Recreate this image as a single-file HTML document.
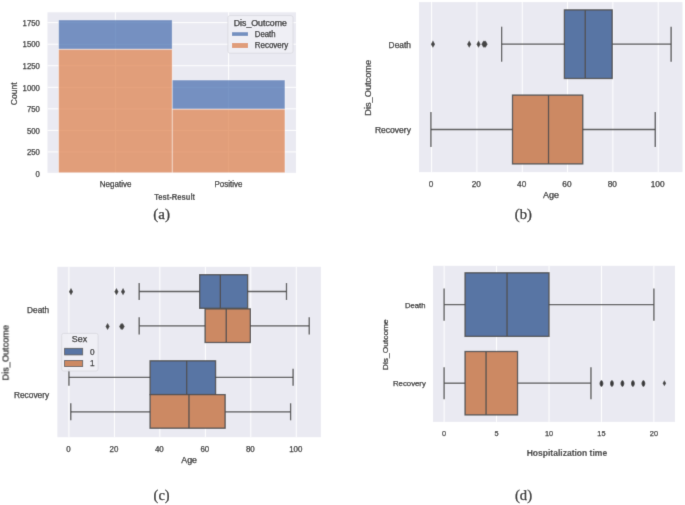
<!DOCTYPE html>
<html><head><meta charset="utf-8"><style>
html,body{margin:0;padding:0;background:#fff;}
body{width:685px;height:505px;overflow:hidden;}
svg{display:block;will-change:transform;}
</style></head><body>
<svg width="685" height="505" viewBox="0 0 685 505">
<defs><filter id="bl" x="0" y="0" width="100%" height="100%"><feConvolveMatrix order="3" kernelMatrix="0.01134 0.08382 0.01134 0.08382 0.61935 0.08382 0.01134 0.08382 0.01134" divisor="1" edgeMode="duplicate" preserveAlpha="false"/></filter></defs>
<rect x="0" y="0" width="685" height="505" fill="#fff"/>
<g filter="url(#bl)">
<rect x="0" y="0" width="685" height="505" fill="#fff"/>
<rect x="47.50" y="12.30" width="248.50" height="160.50" fill="#EAEAF2" />
<text x="39.80" y="176.70" font-size="8.3" text-anchor="end" font-weight="normal" style='font-family:"Liberation Sans", sans-serif' fill="#262626" textLength="4.30" lengthAdjust="spacingAndGlyphs"  stroke="#262626" stroke-width="0.25">0</text>
<line x1="47.50" y1="151.95" x2="296.00" y2="151.95" stroke="#FFFFFF" stroke-width="1" />
<text x="39.80" y="155.15" font-size="8.3" text-anchor="end" font-weight="normal" style='font-family:"Liberation Sans", sans-serif' fill="#262626" textLength="12.90" lengthAdjust="spacingAndGlyphs"  stroke="#262626" stroke-width="0.25">250</text>
<line x1="47.50" y1="130.40" x2="296.00" y2="130.40" stroke="#FFFFFF" stroke-width="1" />
<text x="39.80" y="133.60" font-size="8.3" text-anchor="end" font-weight="normal" style='font-family:"Liberation Sans", sans-serif' fill="#262626" textLength="12.90" lengthAdjust="spacingAndGlyphs"  stroke="#262626" stroke-width="0.25">500</text>
<line x1="47.50" y1="108.85" x2="296.00" y2="108.85" stroke="#FFFFFF" stroke-width="1" />
<text x="39.80" y="112.05" font-size="8.3" text-anchor="end" font-weight="normal" style='font-family:"Liberation Sans", sans-serif' fill="#262626" textLength="12.90" lengthAdjust="spacingAndGlyphs"  stroke="#262626" stroke-width="0.25">750</text>
<line x1="47.50" y1="87.30" x2="296.00" y2="87.30" stroke="#FFFFFF" stroke-width="1" />
<text x="39.80" y="90.50" font-size="8.3" text-anchor="end" font-weight="normal" style='font-family:"Liberation Sans", sans-serif' fill="#262626" textLength="17.20" lengthAdjust="spacingAndGlyphs"  stroke="#262626" stroke-width="0.25">1000</text>
<line x1="47.50" y1="65.75" x2="296.00" y2="65.75" stroke="#FFFFFF" stroke-width="1" />
<text x="39.80" y="68.95" font-size="8.3" text-anchor="end" font-weight="normal" style='font-family:"Liberation Sans", sans-serif' fill="#262626" textLength="17.20" lengthAdjust="spacingAndGlyphs"  stroke="#262626" stroke-width="0.25">1250</text>
<line x1="47.50" y1="44.20" x2="296.00" y2="44.20" stroke="#FFFFFF" stroke-width="1" />
<text x="39.80" y="47.40" font-size="8.3" text-anchor="end" font-weight="normal" style='font-family:"Liberation Sans", sans-serif' fill="#262626" textLength="17.20" lengthAdjust="spacingAndGlyphs"  stroke="#262626" stroke-width="0.25">1500</text>
<line x1="47.50" y1="22.65" x2="296.00" y2="22.65" stroke="#FFFFFF" stroke-width="1" />
<text x="39.80" y="25.85" font-size="8.3" text-anchor="end" font-weight="normal" style='font-family:"Liberation Sans", sans-serif' fill="#262626" textLength="17.20" lengthAdjust="spacingAndGlyphs"  stroke="#262626" stroke-width="0.25">1750</text>
<line x1="115.40" y1="12.30" x2="115.40" y2="172.80" stroke="#FFFFFF" stroke-width="1" />
<line x1="228.60" y1="12.30" x2="228.60" y2="172.80" stroke="#FFFFFF" stroke-width="1" />
<rect x="58.50" y="49.11" width="113.70" height="123.69" fill="#DD8452" fill-opacity="0.75" stroke="#fff" stroke-opacity="0.75" stroke-width="0.6"/>
<rect x="58.50" y="19.89" width="113.70" height="29.22" fill="#4C72B0" fill-opacity="0.75" stroke="#fff" stroke-opacity="0.75" stroke-width="0.6"/>
<rect x="172.20" y="109.02" width="112.80" height="63.78" fill="#DD8452" fill-opacity="0.75" stroke="#fff" stroke-opacity="0.75" stroke-width="0.6"/>
<rect x="172.20" y="79.97" width="112.80" height="29.05" fill="#4C72B0" fill-opacity="0.75" stroke="#fff" stroke-opacity="0.75" stroke-width="0.6"/>
<rect x="227.9" y="15.6" width="65.1" height="37.6" rx="2" fill="#F0F0F5" fill-opacity="0.9" stroke="#D8D8DE" stroke-width="0.8"/>
<text x="260.30" y="25.80" font-size="8.2" text-anchor="middle" font-weight="normal" style='font-family:"Liberation Sans", sans-serif' fill="#262626" textLength="53.00" lengthAdjust="spacingAndGlyphs"  stroke="#262626" stroke-width="0.25">Dis_Outcome</text>
<rect x="232.00" y="32.20" width="16.00" height="3.70" fill="#7390C0" />
<rect x="232.00" y="43.00" width="16.00" height="5.00" fill="#E09D7A" />
<text x="254.80" y="37.00" font-size="8.2" text-anchor="start" font-weight="normal" style='font-family:"Liberation Sans", sans-serif' fill="#262626" textLength="20.70" lengthAdjust="spacingAndGlyphs"  stroke="#262626" stroke-width="0.25">Death</text>
<text x="254.80" y="47.60" font-size="8.2" text-anchor="start" font-weight="normal" style='font-family:"Liberation Sans", sans-serif' fill="#262626" textLength="33.50" lengthAdjust="spacingAndGlyphs"  stroke="#262626" stroke-width="0.25">Recovery</text>
<text x="17.40" y="93.70" font-size="8.4" text-anchor="middle" font-weight="normal" style='font-family:"Liberation Sans", sans-serif' fill="#262626" textLength="22.90" lengthAdjust="spacingAndGlyphs" transform="rotate(-90 17.40 93.70)"  stroke="#262626" stroke-width="0.25">Count</text>
<text x="115.60" y="186.90" font-size="8.8" text-anchor="middle" font-weight="normal" style='font-family:"Liberation Sans", sans-serif' fill="#262626" textLength="31.60" lengthAdjust="spacingAndGlyphs"  stroke="#262626" stroke-width="0.25">Negative</text>
<text x="228.40" y="186.90" font-size="8.8" text-anchor="middle" font-weight="normal" style='font-family:"Liberation Sans", sans-serif' fill="#262626" textLength="27.80" lengthAdjust="spacingAndGlyphs"  stroke="#262626" stroke-width="0.25">Positive</text>
<text x="174.70" y="199.70" font-size="8.7" text-anchor="middle" font-weight="bold" style='font-family:"Liberation Sans", sans-serif' fill="#3a3a3a" textLength="40.90" lengthAdjust="spacingAndGlyphs"  stroke="#3a3a3a" stroke-width="0.1">Test-Result</text>
<text x="161.70" y="218.70" font-size="15" text-anchor="middle" font-weight="normal" style='font-family:"Liberation Serif", serif' fill="#111" textLength="16.80" lengthAdjust="spacingAndGlyphs"  stroke="#111" stroke-width="0.25">(a)</text>
<rect x="419.00" y="2.10" width="263.50" height="170.00" fill="#EAEAF2" />
<line x1="431.60" y1="2.10" x2="431.60" y2="172.10" stroke="#FFFFFF" stroke-width="1" />
<text x="431.00" y="186.80" font-size="8.3" text-anchor="middle" font-weight="normal" style='font-family:"Liberation Sans", sans-serif' fill="#262626" textLength="4.60" lengthAdjust="spacingAndGlyphs"  stroke="#262626" stroke-width="0.25">0</text>
<line x1="476.92" y1="2.10" x2="476.92" y2="172.10" stroke="#FFFFFF" stroke-width="1" />
<text x="476.32" y="186.80" font-size="8.3" text-anchor="middle" font-weight="normal" style='font-family:"Liberation Sans", sans-serif' fill="#262626" textLength="9.20" lengthAdjust="spacingAndGlyphs"  stroke="#262626" stroke-width="0.25">20</text>
<line x1="522.24" y1="2.10" x2="522.24" y2="172.10" stroke="#FFFFFF" stroke-width="1" />
<text x="521.64" y="186.80" font-size="8.3" text-anchor="middle" font-weight="normal" style='font-family:"Liberation Sans", sans-serif' fill="#262626" textLength="9.20" lengthAdjust="spacingAndGlyphs"  stroke="#262626" stroke-width="0.25">40</text>
<line x1="567.56" y1="2.10" x2="567.56" y2="172.10" stroke="#FFFFFF" stroke-width="1" />
<text x="566.96" y="186.80" font-size="8.3" text-anchor="middle" font-weight="normal" style='font-family:"Liberation Sans", sans-serif' fill="#262626" textLength="9.20" lengthAdjust="spacingAndGlyphs"  stroke="#262626" stroke-width="0.25">60</text>
<line x1="612.88" y1="2.10" x2="612.88" y2="172.10" stroke="#FFFFFF" stroke-width="1" />
<text x="612.28" y="186.80" font-size="8.3" text-anchor="middle" font-weight="normal" style='font-family:"Liberation Sans", sans-serif' fill="#262626" textLength="9.20" lengthAdjust="spacingAndGlyphs"  stroke="#262626" stroke-width="0.25">80</text>
<line x1="658.20" y1="2.10" x2="658.20" y2="172.10" stroke="#FFFFFF" stroke-width="1" />
<text x="657.60" y="186.80" font-size="8.3" text-anchor="middle" font-weight="normal" style='font-family:"Liberation Sans", sans-serif' fill="#262626" textLength="13.80" lengthAdjust="spacingAndGlyphs"  stroke="#262626" stroke-width="0.25">100</text>
<line x1="501.62" y1="44.20" x2="564.39" y2="44.20" stroke="#505050" stroke-width="1.3" />
<line x1="612.20" y1="44.20" x2="671.12" y2="44.20" stroke="#505050" stroke-width="1.3" />
<line x1="501.62" y1="26.70" x2="501.62" y2="61.70" stroke="#505050" stroke-width="1.3" />
<line x1="671.12" y1="26.70" x2="671.12" y2="61.70" stroke="#505050" stroke-width="1.3" />
<rect x="564.39" y="9.90" width="47.81" height="68.60" fill="#5875A4" stroke="#505050" stroke-width="1.3"/>
<line x1="585.23" y1="9.90" x2="585.23" y2="78.50" stroke="#505050" stroke-width="1.3" />
<path d="M432.96 40.60 L435.06 44.20 L432.96 47.80 L430.86 44.20 Z" fill="#444"/>
<path d="M469.22 40.60 L471.32 44.20 L469.22 47.80 L467.12 44.20 Z" fill="#444"/>
<path d="M478.51 40.60 L480.61 44.20 L478.51 47.80 L476.41 44.20 Z" fill="#444"/>
<path d="M483.49 40.60 L485.59 44.20 L483.49 47.80 L481.39 44.20 Z" fill="#444"/>
<path d="M484.62 40.60 L486.72 44.20 L484.62 47.80 L482.52 44.20 Z" fill="#444"/>
<path d="M485.53 40.60 L487.63 44.20 L485.53 47.80 L483.43 44.20 Z" fill="#444"/>
<line x1="430.92" y1="129.50" x2="512.50" y2="129.50" stroke="#505050" stroke-width="1.3" />
<line x1="582.74" y1="129.50" x2="655.25" y2="129.50" stroke="#505050" stroke-width="1.3" />
<line x1="430.92" y1="112.00" x2="430.92" y2="147.00" stroke="#505050" stroke-width="1.3" />
<line x1="655.25" y1="112.00" x2="655.25" y2="147.00" stroke="#505050" stroke-width="1.3" />
<rect x="512.50" y="95.10" width="70.25" height="68.80" fill="#CC8963" stroke="#505050" stroke-width="1.3"/>
<line x1="548.53" y1="95.10" x2="548.53" y2="163.90" stroke="#505050" stroke-width="1.3" />
<text x="410.90" y="47.90" font-size="8.4" text-anchor="end" font-weight="normal" style='font-family:"Liberation Sans", sans-serif' fill="#262626" textLength="22.30" lengthAdjust="spacingAndGlyphs"  stroke="#262626" stroke-width="0.25">Death</text>
<text x="411.00" y="133.30" font-size="8.4" text-anchor="end" font-weight="normal" style='font-family:"Liberation Sans", sans-serif' fill="#262626" textLength="36.10" lengthAdjust="spacingAndGlyphs"  stroke="#262626" stroke-width="0.25">Recovery</text>
<text x="370.80" y="87.80" font-size="8.4" text-anchor="middle" font-weight="normal" style='font-family:"Liberation Sans", sans-serif' fill="#262626" textLength="55.80" lengthAdjust="spacingAndGlyphs" transform="rotate(-90 370.80 87.80)"  stroke="#262626" stroke-width="0.25">Dis_Outcome</text>
<text x="551.10" y="197.80" font-size="8.4" text-anchor="middle" font-weight="normal" style='font-family:"Liberation Sans", sans-serif' fill="#262626" textLength="16.00" lengthAdjust="spacingAndGlyphs"  stroke="#262626" stroke-width="0.25">Age</text>
<text x="523.30" y="218.70" font-size="15" text-anchor="middle" font-weight="normal" style='font-family:"Liberation Serif", serif' fill="#111" textLength="17.10" lengthAdjust="spacingAndGlyphs"  stroke="#111" stroke-width="0.25">(b)</text>
<rect x="57.40" y="266.80" width="263.50" height="170.40" fill="#EAEAF2" />
<line x1="68.94" y1="266.80" x2="68.94" y2="437.20" stroke="#FFFFFF" stroke-width="1" />
<text x="68.44" y="451.90" font-size="8.3" text-anchor="middle" font-weight="normal" style='font-family:"Liberation Sans", sans-serif' fill="#262626" textLength="4.40" lengthAdjust="spacingAndGlyphs"  stroke="#262626" stroke-width="0.25">0</text>
<line x1="114.41" y1="266.80" x2="114.41" y2="437.20" stroke="#FFFFFF" stroke-width="1" />
<text x="113.91" y="451.90" font-size="8.3" text-anchor="middle" font-weight="normal" style='font-family:"Liberation Sans", sans-serif' fill="#262626" textLength="8.80" lengthAdjust="spacingAndGlyphs"  stroke="#262626" stroke-width="0.25">20</text>
<line x1="159.87" y1="266.80" x2="159.87" y2="437.20" stroke="#FFFFFF" stroke-width="1" />
<text x="159.37" y="451.90" font-size="8.3" text-anchor="middle" font-weight="normal" style='font-family:"Liberation Sans", sans-serif' fill="#262626" textLength="8.80" lengthAdjust="spacingAndGlyphs"  stroke="#262626" stroke-width="0.25">40</text>
<line x1="205.34" y1="266.80" x2="205.34" y2="437.20" stroke="#FFFFFF" stroke-width="1" />
<text x="204.84" y="451.90" font-size="8.3" text-anchor="middle" font-weight="normal" style='font-family:"Liberation Sans", sans-serif' fill="#262626" textLength="8.80" lengthAdjust="spacingAndGlyphs"  stroke="#262626" stroke-width="0.25">60</text>
<line x1="250.80" y1="266.80" x2="250.80" y2="437.20" stroke="#FFFFFF" stroke-width="1" />
<text x="250.30" y="451.90" font-size="8.3" text-anchor="middle" font-weight="normal" style='font-family:"Liberation Sans", sans-serif' fill="#262626" textLength="8.80" lengthAdjust="spacingAndGlyphs"  stroke="#262626" stroke-width="0.25">80</text>
<line x1="296.27" y1="266.80" x2="296.27" y2="437.20" stroke="#FFFFFF" stroke-width="1" />
<text x="295.77" y="451.90" font-size="8.3" text-anchor="middle" font-weight="normal" style='font-family:"Liberation Sans", sans-serif' fill="#262626" textLength="13.20" lengthAdjust="spacingAndGlyphs"  stroke="#262626" stroke-width="0.25">100</text>
<line x1="139.18" y1="291.50" x2="199.65" y2="291.50" stroke="#505050" stroke-width="1.3" />
<line x1="247.62" y1="291.50" x2="286.49" y2="291.50" stroke="#505050" stroke-width="1.3" />
<line x1="139.18" y1="283.00" x2="139.18" y2="300.00" stroke="#505050" stroke-width="1.3" />
<line x1="286.49" y1="283.00" x2="286.49" y2="300.00" stroke="#505050" stroke-width="1.3" />
<rect x="199.65" y="274.70" width="47.97" height="33.60" fill="#5875A4" stroke="#505050" stroke-width="1.3"/>
<line x1="220.34" y1="274.70" x2="220.34" y2="308.30" stroke="#505050" stroke-width="1.3" />
<path d="M70.99 288.10 L73.09 291.70 L70.99 295.30 L68.89 291.70 Z" fill="#444"/>
<path d="M116.45 288.10 L118.55 291.70 L116.45 295.30 L114.35 291.70 Z" fill="#444"/>
<path d="M123.04 288.10 L125.14 291.70 L123.04 295.30 L120.94 291.70 Z" fill="#444"/>
<line x1="139.18" y1="325.90" x2="205.11" y2="325.90" stroke="#505050" stroke-width="1.3" />
<line x1="250.35" y1="325.90" x2="309.23" y2="325.90" stroke="#505050" stroke-width="1.3" />
<line x1="139.18" y1="317.20" x2="139.18" y2="334.60" stroke="#505050" stroke-width="1.3" />
<line x1="309.23" y1="317.20" x2="309.23" y2="334.60" stroke="#505050" stroke-width="1.3" />
<rect x="205.11" y="308.90" width="45.24" height="33.60" fill="#CC8963" stroke="#505050" stroke-width="1.3"/>
<line x1="226.25" y1="308.90" x2="226.25" y2="342.50" stroke="#505050" stroke-width="1.3" />
<path d="M107.59 322.90 L109.69 326.50 L107.59 330.10 L105.49 326.50 Z" fill="#444"/>
<path d="M121.23 322.90 L123.33 326.50 L121.23 330.10 L119.13 326.50 Z" fill="#444"/>
<path d="M122.59 322.90 L124.69 326.50 L122.59 330.10 L120.49 326.50 Z" fill="#444"/>
<line x1="68.94" y1="377.30" x2="150.10" y2="377.30" stroke="#505050" stroke-width="1.3" />
<line x1="215.57" y1="377.30" x2="293.09" y2="377.30" stroke="#505050" stroke-width="1.3" />
<line x1="68.94" y1="368.80" x2="68.94" y2="385.80" stroke="#505050" stroke-width="1.3" />
<line x1="293.09" y1="368.80" x2="293.09" y2="385.80" stroke="#505050" stroke-width="1.3" />
<rect x="150.10" y="360.80" width="65.47" height="33.80" fill="#5875A4" stroke="#505050" stroke-width="1.3"/>
<line x1="186.70" y1="360.80" x2="186.70" y2="394.60" stroke="#505050" stroke-width="1.3" />
<line x1="70.76" y1="411.80" x2="150.10" y2="411.80" stroke="#505050" stroke-width="1.3" />
<line x1="225.12" y1="411.80" x2="290.59" y2="411.80" stroke="#505050" stroke-width="1.3" />
<line x1="70.76" y1="403.30" x2="70.76" y2="420.30" stroke="#505050" stroke-width="1.3" />
<line x1="290.59" y1="403.30" x2="290.59" y2="420.30" stroke="#505050" stroke-width="1.3" />
<rect x="150.10" y="394.60" width="75.02" height="33.60" fill="#CC8963" stroke="#505050" stroke-width="1.3"/>
<line x1="188.97" y1="394.60" x2="188.97" y2="428.20" stroke="#505050" stroke-width="1.3" />
<rect x="61.7" y="333.4" width="36.4" height="37.6" rx="2" fill="#F0F0F5" fill-opacity="0.9" stroke="#D8D8DE" stroke-width="0.8"/>
<text x="79.50" y="341.60" font-size="8.2" text-anchor="middle" font-weight="normal" style='font-family:"Liberation Sans", sans-serif' fill="#262626" textLength="15.40" lengthAdjust="spacingAndGlyphs"  stroke="#262626" stroke-width="0.25">Sex</text>
<rect x="64.6" y="348.3" width="18.1" height="6.6" fill="#5875A4" stroke="#505050" stroke-width="0.8"/>
<rect x="64.6" y="360.4" width="18.1" height="6.2" fill="#CC8963" stroke="#505050" stroke-width="0.8"/>
<text x="90.00" y="354.80" font-size="8.2" text-anchor="start" font-weight="normal" style='font-family:"Liberation Sans", sans-serif' fill="#262626"  stroke="#262626" stroke-width="0.25">0</text>
<text x="90.00" y="366.40" font-size="8.2" text-anchor="start" font-weight="normal" style='font-family:"Liberation Sans", sans-serif' fill="#262626"  stroke="#262626" stroke-width="0.25">1</text>
<text x="49.10" y="313.00" font-size="8.4" text-anchor="end" font-weight="normal" style='font-family:"Liberation Sans", sans-serif' fill="#262626" textLength="22.00" lengthAdjust="spacingAndGlyphs"  stroke="#262626" stroke-width="0.25">Death</text>
<text x="49.10" y="398.30" font-size="8.4" text-anchor="end" font-weight="normal" style='font-family:"Liberation Sans", sans-serif' fill="#262626" textLength="35.10" lengthAdjust="spacingAndGlyphs"  stroke="#262626" stroke-width="0.25">Recovery</text>
<text x="8.30" y="352.80" font-size="8.4" text-anchor="middle" font-weight="normal" style='font-family:"Liberation Sans", sans-serif' fill="#262626" textLength="55.50" lengthAdjust="spacingAndGlyphs" transform="rotate(-90 8.30 352.80)"  stroke="#262626" stroke-width="0.25">Dis_Outcome</text>
<text x="189.10" y="462.50" font-size="8.4" text-anchor="middle" font-weight="normal" style='font-family:"Liberation Sans", sans-serif' fill="#262626" textLength="15.70" lengthAdjust="spacingAndGlyphs"  stroke="#262626" stroke-width="0.25">Age</text>
<text x="161.60" y="499.80" font-size="15" text-anchor="middle" font-weight="normal" style='font-family:"Liberation Serif", serif' fill="#111" textLength="16.10" lengthAdjust="spacingAndGlyphs"  stroke="#111" stroke-width="0.25">(c)</text>
<rect x="433.00" y="265.80" width="242.00" height="156.10" fill="#EAEAF2" />
<line x1="444.10" y1="265.80" x2="444.10" y2="421.90" stroke="#FFFFFF" stroke-width="1" />
<text x="444.10" y="435.90" font-size="7.6" text-anchor="middle" font-weight="normal" style='font-family:"Liberation Sans", sans-serif' fill="#262626" textLength="4.10" lengthAdjust="spacingAndGlyphs"  stroke="#262626" stroke-width="0.25">0</text>
<line x1="496.55" y1="265.80" x2="496.55" y2="421.90" stroke="#FFFFFF" stroke-width="1" />
<text x="496.55" y="435.90" font-size="7.6" text-anchor="middle" font-weight="normal" style='font-family:"Liberation Sans", sans-serif' fill="#262626" textLength="4.10" lengthAdjust="spacingAndGlyphs"  stroke="#262626" stroke-width="0.25">5</text>
<line x1="549.00" y1="265.80" x2="549.00" y2="421.90" stroke="#FFFFFF" stroke-width="1" />
<text x="549.00" y="435.90" font-size="7.6" text-anchor="middle" font-weight="normal" style='font-family:"Liberation Sans", sans-serif' fill="#262626" textLength="8.20" lengthAdjust="spacingAndGlyphs"  stroke="#262626" stroke-width="0.25">10</text>
<line x1="601.45" y1="265.80" x2="601.45" y2="421.90" stroke="#FFFFFF" stroke-width="1" />
<text x="601.45" y="435.90" font-size="7.6" text-anchor="middle" font-weight="normal" style='font-family:"Liberation Sans", sans-serif' fill="#262626" textLength="8.20" lengthAdjust="spacingAndGlyphs"  stroke="#262626" stroke-width="0.25">15</text>
<line x1="653.90" y1="265.80" x2="653.90" y2="421.90" stroke="#FFFFFF" stroke-width="1" />
<text x="653.90" y="435.90" font-size="7.6" text-anchor="middle" font-weight="normal" style='font-family:"Liberation Sans", sans-serif' fill="#262626" textLength="8.20" lengthAdjust="spacingAndGlyphs"  stroke="#262626" stroke-width="0.25">20</text>
<line x1="444.10" y1="304.60" x2="465.08" y2="304.60" stroke="#505050" stroke-width="1.3" />
<line x1="549.00" y1="304.60" x2="653.90" y2="304.60" stroke="#505050" stroke-width="1.3" />
<line x1="444.10" y1="288.40" x2="444.10" y2="320.80" stroke="#505050" stroke-width="1.3" />
<line x1="653.90" y1="288.40" x2="653.90" y2="320.80" stroke="#505050" stroke-width="1.3" />
<rect x="465.08" y="272.80" width="83.92" height="63.60" fill="#5875A4" stroke="#505050" stroke-width="1.3"/>
<line x1="507.04" y1="272.80" x2="507.04" y2="336.40" stroke="#505050" stroke-width="1.3" />
<line x1="444.10" y1="383.20" x2="465.08" y2="383.20" stroke="#505050" stroke-width="1.3" />
<line x1="517.53" y1="383.20" x2="590.96" y2="383.20" stroke="#505050" stroke-width="1.3" />
<line x1="444.10" y1="367.20" x2="444.10" y2="399.20" stroke="#505050" stroke-width="1.3" />
<line x1="590.96" y1="367.20" x2="590.96" y2="399.20" stroke="#505050" stroke-width="1.3" />
<rect x="465.08" y="351.50" width="52.45" height="63.40" fill="#CC8963" stroke="#505050" stroke-width="1.3"/>
<line x1="486.06" y1="351.50" x2="486.06" y2="414.90" stroke="#505050" stroke-width="1.3" />
<path d="M601.45 379.90 C603.98 381.47 603.98 385.32 601.45 386.90 C598.92 385.32 598.92 381.47 601.45 379.90 Z" fill="#3a3a3a"/>
<path d="M611.94 379.90 C614.47 381.47 614.47 385.32 611.94 386.90 C609.41 385.32 609.41 381.47 611.94 379.90 Z" fill="#3a3a3a"/>
<path d="M622.43 379.90 C624.96 381.47 624.96 385.32 622.43 386.90 C619.90 385.32 619.90 381.47 622.43 379.90 Z" fill="#3a3a3a"/>
<path d="M632.92 379.90 C635.45 381.47 635.45 385.32 632.92 386.90 C630.39 385.32 630.39 381.47 632.92 379.90 Z" fill="#3a3a3a"/>
<path d="M643.41 379.90 C645.94 381.47 645.94 385.32 643.41 386.90 C640.88 385.32 640.88 381.47 643.41 379.90 Z" fill="#3a3a3a"/>
<path d="M664.39 380.20 L666.19 383.20 L664.39 386.20 L662.59 383.20 Z" fill="#444"/>
<text x="425.50" y="308.20" font-size="7.8" text-anchor="end" font-weight="normal" style='font-family:"Liberation Sans", sans-serif' fill="#262626" textLength="20.40" lengthAdjust="spacingAndGlyphs"  stroke="#262626" stroke-width="0.25">Death</text>
<text x="425.80" y="386.40" font-size="7.8" text-anchor="end" font-weight="normal" style='font-family:"Liberation Sans", sans-serif' fill="#262626" textLength="32.80" lengthAdjust="spacingAndGlyphs"  stroke="#262626" stroke-width="0.25">Recovery</text>
<text x="387.80" y="344.70" font-size="7.8" text-anchor="middle" font-weight="normal" style='font-family:"Liberation Sans", sans-serif' fill="#262626" textLength="51.00" lengthAdjust="spacingAndGlyphs" transform="rotate(-90 387.80 344.70)"  stroke="#262626" stroke-width="0.25">Dis_Outcome</text>
<text x="566.90" y="456.10" font-size="8.4" text-anchor="middle" font-weight="bold" style='font-family:"Liberation Sans", sans-serif' fill="#3a3a3a" textLength="80.50" lengthAdjust="spacingAndGlyphs"  stroke="#3a3a3a" stroke-width="0.1">Hospitalization time</text>
<text x="523.50" y="499.60" font-size="15" text-anchor="middle" font-weight="normal" style='font-family:"Liberation Serif", serif' fill="#111" textLength="17.10" lengthAdjust="spacingAndGlyphs"  stroke="#111" stroke-width="0.25">(d)</text>
</g>
</svg>
</body></html>
